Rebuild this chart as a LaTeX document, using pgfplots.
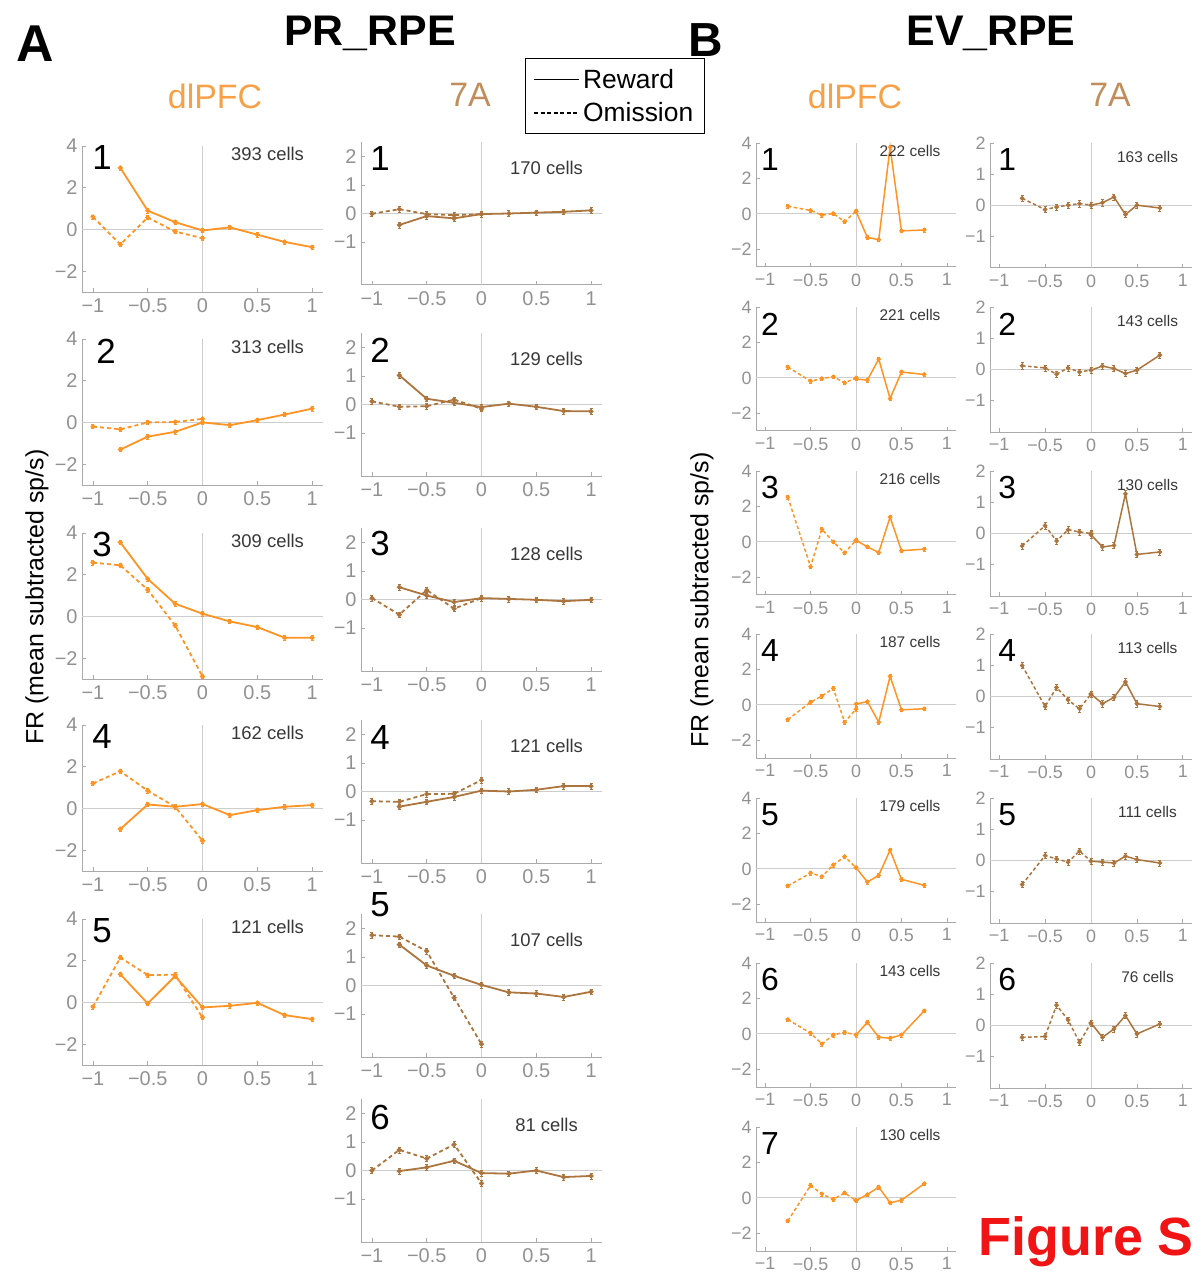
\documentclass[border=0pt]{standalone}
\usepackage{fontspec}
\setmainfont{Liberation Sans}
\usepackage{pgfplots}
\pgfplotsset{compat=1.18}
\definecolor{orng}{RGB}{255,148,36}
\definecolor{brwn}{RGB}{172,117,62}
\definecolor{orngT}{RGB}{248,160,70}
\definecolor{brwnT}{RGB}{192,142,92}
\definecolor{axg}{RGB}{170,170,170}
\definecolor{tkg}{RGB}{145,145,145}
\definecolor{zg}{RGB}{205,205,205}
\definecolor{cellg}{RGB}{55,55,55}
\definecolor{figred}{RGB}{240,20,20}
\tikzset{
 numA/.style={font=\fontsize{35}{35}\selectfont, anchor=center, text=black},
 numB/.style={font=\fontsize{32}{32}\selectfont, anchor=center, text=black},
 cellA/.style={font=\fontsize{18.5}{19}\selectfont, anchor=center, text=cellg},
 cellB/.style={font=\fontsize{15.5}{16}\selectfont, anchor=center, text=cellg},
}
\pgfplotsset{
 base/.style={scale only axis, anchor=north west, xmin=-1.1, xmax=1.1,
  axis x line*=bottom, axis y line*=left,
  axis line style={axg, line width=1bp},
  major tick style={axg, line width=0.8bp},
  tick align=inside, major tick length=4bp,
  xtick={-1,-0.5,0,0.5,1}, xticklabels={−1,−0.5,0,0.5,1},
  tick label style={text=tkg},
  xticklabel style={yshift=-3bp},
  yticklabel style={xshift=-1bp},
  extra x ticks={0}, extra y ticks={0}, extra x tick labels={}, extra y tick labels={},
  extra tick style={grid=major, major grid style={zg, line width=1bp}, major tick length=0pt},
  clip=false},
 Adl/.style={base, width=241bp, height=146bp, ymin=-3, ymax=4, ytick={-2,0,2,4}, yticklabels={−2,0,2,4}, tick label style={font=\fontsize{20}{20}\selectfont}},
 A7/.style={base, width=241bp, height=143bp, ymin=-2.5, ymax=2.5, ytick={-1,0,1,2}, yticklabels={−1,0,1,2}, tick label style={font=\fontsize{20}{20}\selectfont}},
 Bdl/.style={base, width=200bp, height=124bp, ymin=-3, ymax=4, ytick={-2,0,2,4}, yticklabels={−2,0,2,4}, tick label style={font=\fontsize{18}{18}\selectfont}},
 B7/.style={base, width=202bp, height=125bp, ymin=-2, ymax=2, ytick={-1,0,1,2}, yticklabels={−1,0,1,2}, tick label style={font=\fontsize{18}{18}\selectfont}},
 pl/.style 2 args={#1, line width=#2, mark=*, mark size=1.5bp, mark options={solid}, forget plot,
   error bars/.cd, y dir=both, y fixed=0.1, error bar style={solid, line width=0.8bp}},
 rA/.style={pl={orng}{1.8bp}},
 oA/.style={dash pattern=on 4bp off 3bp, pl={orng}{1.8bp}},
 rA7/.style={pl={brwn}{1.8bp}},
 oA7/.style={dash pattern=on 4bp off 3bp, pl={brwn}{1.8bp}},
 rB/.style={pl={orng}{1.5bp}},
 oB/.style={dash pattern=on 3.5bp off 2.5bp, pl={orng}{1.5bp}},
 rB7/.style={pl={brwn}{1.5bp}},
 oB7/.style={dash pattern=on 3.5bp off 2.5bp, pl={brwn}{1.5bp}},
}
\begin{document}
\begin{tikzpicture}
\path[use as bounding box] (0bp,0bp) rectangle (1193bp,-1272bp);
\clip (0bp,0bp) rectangle (1193bp,-1272bp);

% ---------- titles ----------
\node[font=\fontsize{52}{52}\selectfont\bfseries] at (35bp,-44bp) {A};
\node[font=\fontsize{43}{43}\selectfont\bfseries] at (370bp,-33bp) {PR\_RPE};
\node[font=\fontsize{48}{48}\selectfont\bfseries] at (706bp,-40bp) {B};
\node[font=\fontsize{43}{43}\selectfont\bfseries] at (991bp,-33bp) {EV\_RPE};
\node[font=\fontsize{34}{34}\selectfont, text=orngT] at (215bp,-96bp) {dlPFC};
\node[font=\fontsize{34}{34}\selectfont, text=brwnT] at (470bp,-95bp) {7A};
\node[font=\fontsize{34}{34}\selectfont, text=orngT] at (855bp,-96bp) {dlPFC};
\node[font=\fontsize{34}{34}\selectfont, text=brwnT] at (1110bp,-95bp) {7A};
\node[rotate=90, font=\fontsize{25}{25}\selectfont] at (37bp,-597bp) {FR (mean subtracted sp/s)};
\node[rotate=90, font=\fontsize{25}{25}\selectfont] at (702bp,-600bp) {FR (mean subtracted sp/s)};
\node[font=\fontsize{54}{54}\selectfont\bfseries, text=figred, anchor=base west] at (975bp,-1255bp) {Figure S};

% ================= A : dlPFC =================
\begin{axis}[Adl, at={(82bp,-146bp)}]
\addplot[rA] coordinates {(-0.75,2.95)(-0.5,0.9)(-0.25,0.35)(0,-0.05)(0.25,0.1)(0.5,-0.25)(0.75,-0.6)(1,-0.85)};
\addplot[oA] coordinates {(-1,0.6)(-0.75,-0.72)(-0.5,0.57)(-0.25,-0.1)(0,-0.42)};
\node[numA] at (rel axis cs:0.083,0.918) {1};
\node[cellA] at (rel axis cs:0.77,0.945) {393 cells};
\end{axis}
\begin{axis}[Adl, at={(82bp,-339bp)}]
\addplot[rA] coordinates {(-0.75,-1.3)(-0.5,-0.68)(-0.25,-0.45)(0,0.0)(0.25,-0.13)(0.5,0.11)(0.75,0.38)(1,0.66)};
\addplot[oA] coordinates {(-1,-0.2)(-0.75,-0.33)(-0.5,0.0)(-0.25,0.02)(0,0.17)};
\node[numA] at (rel axis cs:0.1,0.918) {2};
\node[cellA] at (rel axis cs:0.77,0.945) {313 cells};
\end{axis}
\begin{axis}[Adl, at={(82bp,-533bp)}]
\addplot[rA] coordinates {(-0.75,3.55)(-0.5,1.8)(-0.25,0.61)(0,0.13)(0.25,-0.24)(0.5,-0.51)(0.75,-1.02)(1,-1.02)};
\addplot[oA] coordinates {(-1,2.58)(-0.75,2.45)(-0.5,1.28)(-0.25,-0.43)(0,-2.88)};
\node[numA] at (rel axis cs:0.083,0.918) {3};
\node[cellA] at (rel axis cs:0.77,0.945) {309 cells};
\end{axis}
\begin{axis}[Adl, at={(82bp,-725bp)}]
\addplot[rA] coordinates {(-0.75,-0.99)(-0.5,0.19)(-0.25,0.08)(0,0.21)(0.25,-0.32)(0.5,-0.08)(0.75,0.08)(1,0.16)};
\addplot[oA] coordinates {(-1,1.2)(-0.75,1.78)(-0.5,0.85)(-0.25,0.08)(0,-1.55)};
\node[numA] at (rel axis cs:0.083,0.918) {4};
\node[cellA] at (rel axis cs:0.77,0.945) {162 cells};
\end{axis}
\begin{axis}[Adl, at={(82bp,-919bp)}]
\addplot[rA] coordinates {(-0.75,1.35)(-0.5,-0.05)(-0.25,1.26)(0,-0.24)(0.25,-0.16)(0.5,-0.02)(0.75,-0.61)(1,-0.8)};
\addplot[oA] coordinates {(-1,-0.21)(-0.75,2.15)(-0.5,1.31)(-0.25,1.33)(0,-0.72)};
\node[numA] at (rel axis cs:0.083,0.918) {5};
\node[cellA] at (rel axis cs:0.77,0.945) {121 cells};
\end{axis}

% ================= A : 7A =================
\begin{axis}[A7, at={(361bp,-142bp)},
  legend image code/.code={\draw[#1] (0bp,0bp) -- (45bp,0bp);},
  legend style={at={(0.68,1.587)}, anchor=north west, draw=black, line width=1bp,
    font=\fontsize{26.5}{29}\selectfont, inner xsep=8bp, inner ysep=7bp, row sep=6bp,
    nodes={inner sep=3.5bp}, cells={anchor=west}},
  legend cell align=left]
\addplot[rA7] coordinates {(-0.75,-0.4)(-0.5,-0.09)(-0.25,-0.17)(0,-0.02)(0.25,0)(0.5,0.03)(0.75,0.06)(1,0.11)};
\addplot[oA7] coordinates {(-1,-0.01)(-0.75,0.15)(-0.5,-0.02)(-0.25,-0.06)(0,-0.02)};
\addlegendimage{black, line width=1.3bp, no markers}
\addlegendentry{Reward}
\addlegendimage{black, line width=1.3bp, dash pattern=on 4bp off 2.5bp, no markers}
\addlegendentry{Omission}
\node[numA] at (rel axis cs:0.079,0.888) {1};
\node[cellA] at (rel axis cs:0.77,0.818) {170 cells};
\end{axis}
\begin{axis}[A7, at={(361bp,-333bp)}]
\addplot[rA7] coordinates {(-0.75,1.02)(-0.5,0.2)(-0.25,0.06)(0,-0.09)(0.25,0.03)(0.5,-0.08)(0.75,-0.23)(1,-0.24)};
\addplot[oA7] coordinates {(-1,0.11)(-0.75,-0.08)(-0.5,-0.06)(-0.25,0.17)(0,-0.15)};
\node[numA] at (rel axis cs:0.079,0.881) {2};
\node[cellA] at (rel axis cs:0.77,0.818) {129 cells};
\end{axis}
\begin{axis}[A7, at={(361bp,-528bp)}]
\addplot[rA7] coordinates {(-0.75,0.43)(-0.5,0.14)(-0.25,-0.09)(0,0.05)(0.25,0.02)(0.5,-0.01)(0.75,-0.06)(1,-0.01)};
\addplot[oA7] coordinates {(-1,0.05)(-0.75,-0.53)(-0.5,0.33)(-0.25,-0.32)(0,0.05)};
\node[numA] at (rel axis cs:0.079,0.895) {3};
\node[cellA] at (rel axis cs:0.77,0.818) {128 cells};
\end{axis}
\begin{axis}[A7, at={(361bp,-720bp)}]
\addplot[rA7] coordinates {(-0.75,-0.53)(-0.5,-0.36)(-0.25,-0.19)(0,0.03)(0.25,0)(0.5,0.06)(0.75,0.19)(1,0.19)};
\addplot[oA7] coordinates {(-1,-0.34)(-0.75,-0.36)(-0.5,-0.09)(-0.25,-0.08)(0,0.4)};
\node[numA] at (rel axis cs:0.079,0.881) {4};
\node[cellA] at (rel axis cs:0.77,0.818) {121 cells};
\end{axis}
\begin{axis}[A7, at={(361bp,-914bp)}]
\addplot[rA7] coordinates {(-0.75,1.43)(-0.5,0.7)(-0.25,0.34)(0,0.02)(0.25,-0.24)(0.5,-0.28)(0.75,-0.4)(1,-0.22)};
\addplot[oA7] coordinates {(-1,1.76)(-0.75,1.71)(-0.5,1.2)(-0.25,-0.43)(0,-2.05)};
\node[numA] at (rel axis cs:0.079,1.063) {5};
\node[cellA] at (rel axis cs:0.77,0.818) {107 cells};
\end{axis}
\begin{axis}[A7, at={(361bp,-1099bp)}]
\addplot[rA7] coordinates {(-0.75,-0.02)(-0.5,0.11)(-0.25,0.34)(0,-0.09)(0.25,-0.11)(0.5,0)(0.75,-0.23)(1,-0.19)};
\addplot[oA7] coordinates {(-1,0)(-0.75,0.72)(-0.5,0.42)(-0.25,0.91)(0,-0.45)};
\node[numA] at (rel axis cs:0.079,0.874) {6};
\node[cellA] at (rel axis cs:0.77,0.818) {81 cells};
\end{axis}

% ================= B : dlPFC =================
\begin{axis}[Bdl, at={(756bp,-143bp)}]
\addplot[oB] coordinates {(-0.75,0.43)(-0.5,0.19)(-0.375,-0.07)(-0.25,0.02)(-0.125,-0.44)(0,0.15)};
\addplot[rB] coordinates {(0,0.15)(0.125,-1.33)(0.25,-1.46)(0.375,3.76)(0.5,-0.96)(0.75,-0.91)};
\node[numB] at (rel axis cs:0.07,0.863) {1};
\node[cellB] at (rel axis cs:0.77,0.935) {222 cells};
\end{axis}
\begin{axis}[Bdl, at={(756bp,-307bp)}]
\addplot[oB] coordinates {(-0.75,0.61)(-0.5,-0.19)(-0.375,-0.04)(-0.25,0.06)(-0.125,-0.28)(0,0.0)};
\addplot[rB] coordinates {(0,-0.06)(0.125,-0.13)(0.25,1.06)(0.375,-1.17)(0.5,0.33)(0.75,0.19)};
\node[numB] at (rel axis cs:0.07,0.863) {2};
\node[cellB] at (rel axis cs:0.77,0.935) {221 cells};
\end{axis}
\begin{axis}[Bdl, at={(756bp,-471bp)}]
\addplot[oB] coordinates {(-0.75,2.52)(-0.5,-1.4)(-0.375,0.71)(-0.25,0.0)(-0.125,-0.62)(0,0.09)};
\addplot[rB] coordinates {(0,0.09)(0.125,-0.28)(0.25,-0.6)(0.375,1.4)(0.5,-0.5)(0.75,-0.41)};
\node[numB] at (rel axis cs:0.07,0.863) {3};
\node[cellB] at (rel axis cs:0.77,0.935) {216 cells};
\end{axis}
\begin{axis}[Bdl, at={(756bp,-634bp)}]
\addplot[oB] coordinates {(-0.75,-0.83)(-0.5,0.15)(-0.375,0.5)(-0.25,0.93)(-0.125,-0.98)(0,-0.24)};
\addplot[rB] coordinates {(0,0.04)(0.125,0.19)(0.25,-0.98)(0.375,1.61)(0.5,-0.28)(0.75,-0.22)};
\node[numB] at (rel axis cs:0.07,0.863) {4};
\node[cellB] at (rel axis cs:0.77,0.935) {187 cells};
\end{axis}
\begin{axis}[Bdl, at={(756bp,-798bp)}]
\addplot[oB] coordinates {(-0.75,-0.96)(-0.5,-0.24)(-0.375,-0.43)(-0.25,0.22)(-0.125,0.69)(0,0.07)};
\addplot[rB] coordinates {(0,0.07)(0.125,-0.74)(0.25,-0.37)(0.375,1.06)(0.5,-0.59)(0.75,-0.93)};
\node[numB] at (rel axis cs:0.07,0.863) {5};
\node[cellB] at (rel axis cs:0.77,0.935) {179 cells};
\end{axis}
\begin{axis}[Bdl, at={(756bp,-963bp)}]
\addplot[oB] coordinates {(-0.75,0.81)(-0.5,0.04)(-0.375,-0.57)(-0.25,-0.06)(-0.125,0.09)(0,-0.06)};
\addplot[rB] coordinates {(0,-0.06)(0.125,0.65)(0.25,-0.19)(0.375,-0.24)(0.5,-0.06)(0.75,1.3)};
\node[numB] at (rel axis cs:0.07,0.863) {6};
\node[cellB] at (rel axis cs:0.77,0.935) {143 cells};
\end{axis}
\begin{axis}[Bdl, at={(756bp,-1127bp)}]
\addplot[oB] coordinates {(-0.75,-1.3)(-0.5,0.7)(-0.375,0.22)(-0.25,-0.09)(-0.125,0.28)(0,-0.15)};
\addplot[rB] coordinates {(0,-0.15)(0.125,0.19)(0.25,0.61)(0.375,-0.28)(0.5,-0.13)(0.75,0.8)};
\node[numB] at (rel axis cs:0.07,0.863) {7};
\node[cellB] at (rel axis cs:0.77,0.935) {130 cells};
\end{axis}

% ================= B : 7A =================
\begin{axis}[B7, at={(990bp,-143bp)}]
\addplot[oB7] coordinates {(-0.75,0.23)(-0.5,-0.13)(-0.375,-0.05)(-0.25,0.01)(-0.125,0.06)(0,0.01)};
\addplot[rB7] coordinates {(0,0.01)(0.125,0.09)(0.25,0.27)(0.375,-0.29)(0.5,0.01)(0.75,-0.08)};
\node[numB] at (rel axis cs:0.085,0.864) {1};
\node[cellB] at (rel axis cs:0.78,0.892) {163 cells};
\end{axis}
\begin{axis}[B7, at={(990bp,-307bp)}]
\addplot[oB7] coordinates {(-0.75,0.12)(-0.5,0.05)(-0.375,-0.15)(-0.25,0.05)(-0.125,-0.08)(0,-0.02)};
\addplot[rB7] coordinates {(0,-0.02)(0.125,0.11)(0.25,0.03)(0.375,-0.13)(0.5,-0.02)(0.75,0.46)};
\node[numB] at (rel axis cs:0.085,0.864) {2};
\node[cellB] at (rel axis cs:0.78,0.892) {143 cells};
\end{axis}
\begin{axis}[B7, at={(990bp,-471bp)}]
\addplot[oB7] coordinates {(-0.75,-0.4)(-0.5,0.25)(-0.375,-0.24)(-0.25,0.12)(-0.125,0.05)(0,0.0)};
\addplot[rB7] coordinates {(0,-0.04)(0.125,-0.43)(0.25,-0.38)(0.375,1.27)(0.5,-0.67)(0.75,-0.59)};
\node[numB] at (rel axis cs:0.085,0.864) {3};
\node[cellB] at (rel axis cs:0.78,0.892) {130 cells};
\end{axis}
\begin{axis}[B7, at={(990bp,-634bp)}]
\addplot[oB7] coordinates {(-0.75,0.99)(-0.5,-0.32)(-0.375,0.29)(-0.25,-0.11)(-0.125,-0.39)(0,0.08)};
\addplot[rB7] coordinates {(0,0.08)(0.125,-0.23)(0.25,-0.03)(0.375,0.47)(0.5,-0.23)(0.75,-0.32)};
\node[numB] at (rel axis cs:0.085,0.864) {4};
\node[cellB] at (rel axis cs:0.78,0.892) {113 cells};
\end{axis}
\begin{axis}[B7, at={(990bp,-798bp)}]
\addplot[oB7] coordinates {(-0.75,-0.77)(-0.5,0.16)(-0.375,0.05)(-0.25,-0.05)(-0.125,0.3)(0,-0.02)};
\addplot[rB7] coordinates {(0,-0.02)(0.125,-0.05)(0.25,-0.08)(0.375,0.14)(0.5,0.03)(0.75,-0.08)};
\node[numB] at (rel axis cs:0.085,0.864) {5};
\node[cellB] at (rel axis cs:0.78,0.892) {111 cells};
\end{axis}
\begin{axis}[B7, at={(990bp,-963bp)}]
\addplot[oB7] coordinates {(-0.75,-0.38)(-0.5,-0.35)(-0.375,0.65)(-0.25,0.18)(-0.125,-0.54)(0,0.08)};
\addplot[rB7] coordinates {(0,0.08)(0.125,-0.38)(0.25,-0.11)(0.375,0.32)(0.5,-0.27)(0.75,0.05)};
\node[numB] at (rel axis cs:0.085,0.864) {6};
\node[cellB] at (rel axis cs:0.78,0.892) {76 cells};
\end{axis}
\end{tikzpicture}
\end{document}
